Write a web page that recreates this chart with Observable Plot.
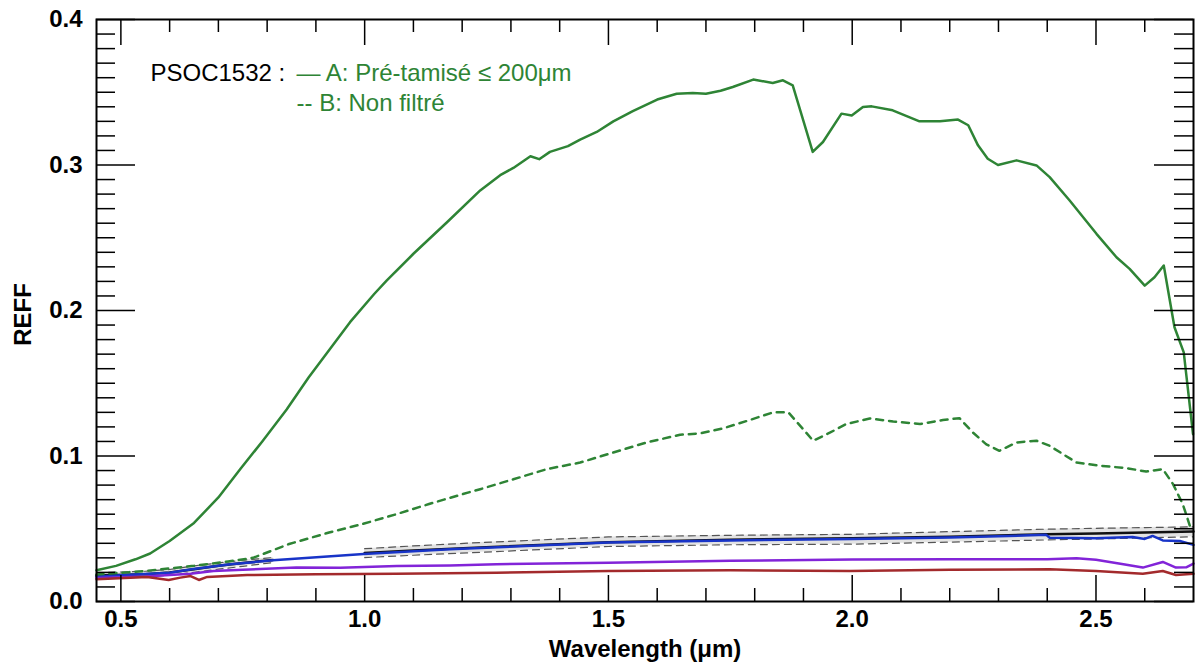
<!DOCTYPE html>
<html>
<head>
<meta charset="utf-8">
<script src="https://cdn.jsdelivr.net/npm/d3@7"></script>
<script src="https://cdn.jsdelivr.net/npm/@observablehq/plot@0.6"></script>
<style>
  html, body { margin: 0; padding: 0; background: white; }
</style>
</head>
<body>
<div id="chart"></div>
<script>
// ---- Data (wavelength µm, REFF) ----
const greenSolidW = [0.45,0.49,0.53,0.56,0.60,0.65,0.70,0.745,0.79,0.84,0.885,0.93,0.97,1.02,1.045,1.10,1.17,1.237,1.278,1.305,1.34,1.358,1.38,1.417,1.442,1.476,1.51,1.55,1.60,1.64,1.673,1.70,1.73,1.755,1.797,1.837,1.858,1.878,1.919,1.94,1.978,1.999,2.022,2.04,2.083,2.138,2.18,2.217,2.238,2.258,2.278,2.299,2.337,2.378,2.405,2.446,2.501,2.542,2.569,2.60,2.62,2.639,2.661,2.68,2.699];
const greenSolidV = [0.0215,0.0245,0.029,0.033,0.0416,0.054,0.0715,0.091,0.110,0.132,0.154,0.174,0.192,0.2115,0.2205,0.239,0.261,0.2825,0.293,0.298,0.306,0.304,0.309,0.313,0.3175,0.3227,0.330,0.337,0.345,0.349,0.3495,0.349,0.351,0.3536,0.3587,0.3564,0.3582,0.3548,0.309,0.3158,0.3353,0.334,0.3398,0.3403,0.3376,0.330,0.330,0.3312,0.3273,0.3135,0.3043,0.300,0.3032,0.2997,0.2917,0.2756,0.2527,0.2366,0.2286,0.2171,0.2229,0.2309,0.1885,0.1712,0.115];

const greenDashW = [0.45,0.55,0.65,0.72,0.771,0.845,0.927,0.996,1.065,1.132,1.201,1.237,1.305,1.374,1.442,1.51,1.578,1.647,1.688,1.735,1.783,1.838,1.869,1.92,1.954,1.988,2.036,2.084,2.139,2.186,2.22,2.248,2.275,2.302,2.337,2.378,2.405,2.46,2.507,2.562,2.603,2.637,2.658,2.678,2.696];
const greenDashV = [0.0185,0.021,0.0245,0.0275,0.030,0.0395,0.0474,0.0533,0.060,0.067,0.0738,0.0772,0.084,0.091,0.0955,0.1024,0.1093,0.1146,0.1155,0.119,0.124,0.130,0.130,0.1105,0.116,0.122,0.1258,0.1237,0.122,0.1247,0.126,0.116,0.108,0.1036,0.1093,0.1105,0.107,0.0955,0.0933,0.0917,0.0893,0.091,0.0807,0.0669,0.0485];

const blueW = [0.45,0.5,0.6,0.645,0.725,0.812,0.998,1.175,1.25,1.5,1.75,2.0,2.2,2.398,2.405,2.5,2.575,2.6,2.616,2.637,2.672,2.7];
const blueV = [0.0172,0.018,0.0198,0.0222,0.0256,0.0283,0.0327,0.0359,0.037,0.0405,0.042,0.043,0.044,0.0458,0.0438,0.0435,0.0444,0.043,0.0451,0.042,0.0416,0.0389];

const purpleW = [0.45,0.55,0.60,0.643,0.69,0.75,0.86,0.95,1.066,1.175,1.27,1.5,1.75,2.0,2.2,2.4,2.46,2.5,2.55,2.596,2.637,2.664,2.685,2.7];
const purpleV = [0.0162,0.0172,0.0182,0.0191,0.021,0.0218,0.0233,0.0232,0.0244,0.0248,0.0256,0.0267,0.028,0.0288,0.029,0.029,0.0297,0.0287,0.026,0.0233,0.0272,0.0233,0.0235,0.026];

const redW = [0.45,0.554,0.598,0.622,0.643,0.66,0.677,0.759,0.9,1.065,1.27,1.5,1.75,1.995,2.2,2.405,2.5,2.596,2.637,2.664,2.7];
const redV = [0.0153,0.0169,0.0148,0.0164,0.0175,0.0148,0.0169,0.0182,0.0187,0.0191,0.0198,0.021,0.0215,0.021,0.0218,0.0222,0.021,0.0191,0.021,0.0182,0.019];

// mean spectrum with ±1σ envelope (two detector segments)
const envSeg  = [1,1,1,1,1,1,1, 2,2,2,2,2,2,2,2,2,2,2];
const envW    = [0.45,0.55,0.60,0.65,0.70,0.75,0.812, 1.00,1.10,1.237,1.5,1.75,2.0,2.2,2.398,2.5,2.6,2.7];
const envMean = [0.0178,0.0188,0.0200,0.0222,0.0245,0.0265,0.0285, 0.0333,0.0350,0.0372,0.0408,0.0425,0.0435,0.0445,0.0462,0.0468,0.0474,0.0481];
const envLo   = [0.0160,0.0168,0.0180,0.0200,0.0222,0.0242,0.0268, 0.0302,0.0318,0.0338,0.0378,0.0390,0.0394,0.0408,0.0423,0.0430,0.0437,0.0445];
const envHi   = [0.0198,0.0208,0.0220,0.0245,0.0265,0.0284,0.0302, 0.0363,0.0382,0.0405,0.0444,0.0455,0.0462,0.0480,0.0497,0.0503,0.0508,0.0513];

// ticks & labels
const xMajor = [0.5, 1.0, 1.5, 2.0, 2.5];
const xMinor = [0.6,0.7,0.8,0.9,1.1,1.2,1.3,1.4,1.6,1.7,1.8,1.9,2.1,2.2,2.3,2.4,2.6];
const yMajor = [0.0, 0.1, 0.2, 0.3, 0.4];
const yMinor = d3.range(1, 40).filter(i => i % 10 !== 0).map(i => i / 100);
const xLabel = ["Wavelength (μm)"];
const yLabel = ["REFF"];
const legendTitle = ["PSOC1532 :"];
const legendA = ["— A: Pré-tamisé ≤ 200μm"];
const legendB = ["-- B: Non filtré"];

// ---- build tables ----
const zip = (W, V) => W.map((w, i) => ({w, v: V[i]}));
const greenSolid = zip(greenSolidW, greenSolidV);
const greenDash = zip(greenDashW, greenDashV);
const blue = zip(blueW, blueV);
const purple = zip(purpleW, purpleV);
const red = zip(redW, redV);
const env = envW.map((w, i) => ({seg: envSeg[i], w, mean: envMean[i], lo: envLo[i], hi: envHi[i]}));

const width = 1195, height = 662;
const mL = 96, mR = 2, mT = 19, mB = 61;
const plotW = width - mL - mR, plotH = height - mT - mB;

const GREEN = "#2e8435", BLUE = "#1834c8", PURPLE = "#8224d8", RED = "#a32a2c";

const chart = Plot.plot({
  width, height,
  marginLeft: mL, marginRight: mR, marginTop: mT, marginBottom: mB,
  x: {domain: [0.45, 2.7]},
  y: {domain: [0, 0.4]},
  style: {fontFamily: "'Liberation Sans', Arial, Helvetica, sans-serif", fontSize: "24px", fontWeight: "bold", background: "white", color: "black"},
  marks: [
    // envelope
    Plot.areaY(env, {x: "w", y1: "lo", y2: "hi", z: "seg", fill: "#dcdcdc", fillOpacity: 0.8}),
    Plot.line(env, {x: "w", y: "hi", z: "seg", stroke: "#555", strokeWidth: 1.2, strokeDasharray: "7,5"}),
    Plot.line(env, {x: "w", y: "lo", z: "seg", stroke: "#555", strokeWidth: 1.2, strokeDasharray: "7,5"}),
    Plot.line(env, {x: "w", y: "mean", z: "seg", stroke: "#111", strokeWidth: 2.5}),
    Plot.line(blue, {x: "w", y: "v", stroke: BLUE, strokeWidth: 2.5}),
    Plot.line(purple, {x: "w", y: "v", stroke: PURPLE, strokeWidth: 2.5}),
    Plot.line(red, {x: "w", y: "v", stroke: RED, strokeWidth: 2.5}),
    Plot.line(greenDash, {x: "w", y: "v", stroke: GREEN, strokeWidth: 2.5, strokeDasharray: "7,6"}),
    Plot.line(greenSolid, {x: "w", y: "v", stroke: GREEN, strokeWidth: 2.5}),
    // ticks (inward, all four sides)
    Plot.tickX(xMajor, {x: d => d, insetTop: plotH - 26, stroke: "black", strokeWidth: 1.5}),
    Plot.tickX(xMajor, {x: d => d, insetBottom: plotH - 26, stroke: "black", strokeWidth: 1.5}),
    Plot.tickX(xMinor, {x: d => d, insetTop: plotH - 13, stroke: "black", strokeWidth: 1.5}),
    Plot.tickX(xMinor, {x: d => d, insetBottom: plotH - 13, stroke: "black", strokeWidth: 1.5}),
    Plot.tickY(yMajor, {y: d => d, insetRight: plotW - 39, stroke: "black", strokeWidth: 1.5}),
    Plot.tickY(yMajor, {y: d => d, insetLeft: plotW - 39, stroke: "black", strokeWidth: 1.5}),
    Plot.tickY(yMinor, {y: d => d, insetRight: plotW - 19, stroke: "black", strokeWidth: 1.5}),
    Plot.tickY(yMinor, {y: d => d, insetLeft: plotW - 19, stroke: "black", strokeWidth: 1.5}),
    Plot.frame({stroke: "black", strokeWidth: 2}),
    // tick labels
    Plot.axisX(xMajor, {anchor: "bottom", tickSize: 0, tickPadding: 8, tickFormat: d => d.toFixed(1), label: null, fontSize: 24, fontWeight: "bold"}),
    Plot.axisY(yMajor, {anchor: "left", tickSize: 0, tickPadding: 14, tickFormat: d => d.toFixed(1), label: null, fontSize: 24, fontWeight: "bold"}),
    // axis titles
    Plot.text(xLabel, {text: d => d, frameAnchor: "bottom", dy: 55, lineAnchor: "bottom", textAnchor: "middle", fontSize: 24, fontWeight: "bold", fill: "black"}),
    Plot.text(yLabel, {text: d => d, frameAnchor: "left", dx: -73, dy: 4, rotate: -90, textAnchor: "middle", lineAnchor: "middle", fontSize: 24, fontWeight: "bold", fill: "black"}),
    // legend
    Plot.text(legendTitle, {text: d => d, frameAnchor: "top-left", dx: 54, dy: 61.5, textAnchor: "start", lineAnchor: "bottom", fontSize: 24, fontWeight: "normal", fill: "black"}),
    Plot.text(legendA, {text: d => d, frameAnchor: "top-left", dx: 200, dy: 61.5, textAnchor: "start", lineAnchor: "bottom", fontSize: 24, fontWeight: "normal", fill: GREEN}),
    Plot.text(legendB, {text: d => d, frameAnchor: "top-left", dx: 200, dy: 91.5, textAnchor: "start", lineAnchor: "bottom", fontSize: 24, fontWeight: "normal", fill: GREEN})
  ]
});
document.getElementById("chart").appendChild(chart);
</script>
</body>
</html>
